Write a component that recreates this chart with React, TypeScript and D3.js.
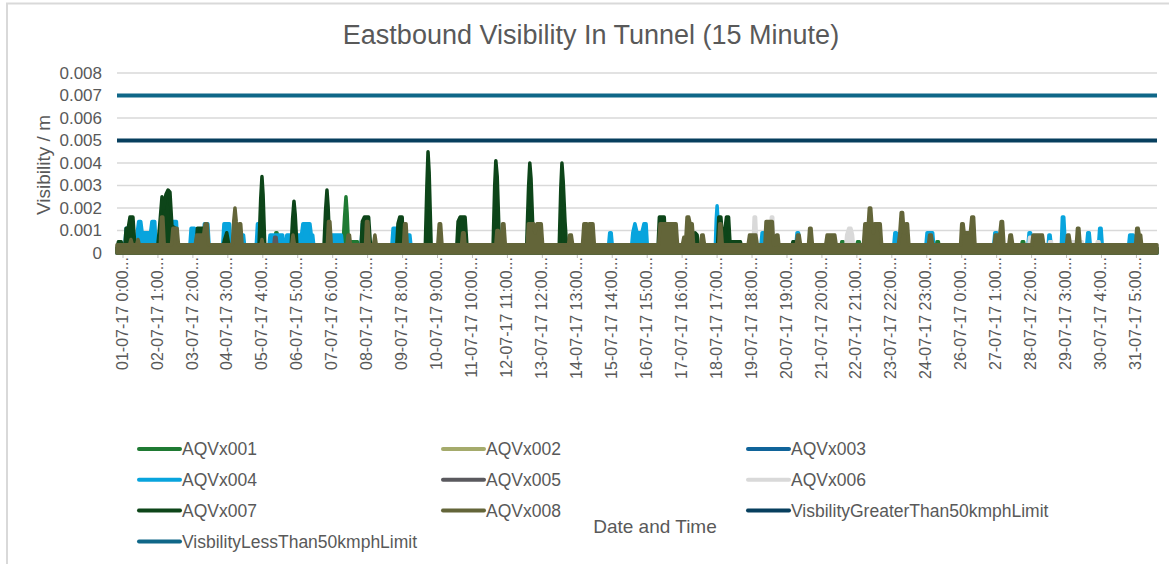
import { useEffect, useRef } from 'react';
import * as d3 from 'd3';

const WIDTH = 1169;
const HEIGHT = 564;

// time axis: hours since 01-07-17 0:00 (15 minute readings)
const HOURS_TOTAL = 744;
const LABEL_STEP_HOURS = 25;

const xTickLabels = [
  '01-07-17 0:00...', '02-07-17 1:00...', '03-07-17 2:00...', '04-07-17 3:00...',
  '05-07-17 4:00...', '06-07-17 5:00...', '07-07-17 6:00...', '08-07-17 7:00...',
  '09-07-17 8:00...', '10-07-17 9:00...', '11-07-17 10:00...', '12-07-17 11:00...',
  '13-07-17 12:00...', '14-07-17 13:00...', '15-07-17 14:00...', '16-07-17 15:00...',
  '17-07-17 16:00...', '18-07-17 17:00...', '19-07-17 18:00...', '20-07-17 19:00...',
  '21-07-17 20:00...', '22-07-17 21:00...', '23-07-17 22:00...', '24-07-17 23:00...',
  '26-07-17 0:00...', '27-07-17 1:00...', '28-07-17 2:00...', '29-07-17 3:00...',
  '30-07-17 4:00...', '31-07-17 5:00...',
];

const yTicks = [0, 0.001, 0.002, 0.003, 0.004, 0.005, 0.006, 0.007, 0.008];

// background level between bursts
const B = 0.0002;
const D = 0.00037; // AQVx008 resting level

type Pt = [number, number];

// bursts of [hour, visibility]
const AQVx001: Pt[][] = [
  [[112.8, B], [113.6, 0.0009], [114.5, 0.0009], [115.3, B]],
  [[161.5, B], [162.8, 0.0016], [163.8, 0.0025], [164.6, 0.0018], [165.5, 0.0005], [172, 0.0005], [173, B]],
  [[336, B], [336.8, 0.0005], [337.8, 0.0005], [338.6, B]],
  [[517.7, B], [518.5, 0.0005], [519.5, 0.0005], [520.3, B]],
  [[529, B], [529.8, 0.0005], [531, 0.0005], [531.8, B]],
  [[585.8, B], [586.6, 0.0005], [587.6, 0.0005], [588.4, B]],
  [[607.5, B], [608.3, 0.0009], [609.2, 0.0009], [610, B]],
  [[646.8, B], [647.6, 0.0005], [648.6, 0.0005], [649.4, B]],
];

const AQVx002: Pt[][] = [];
const AQVx003: Pt[][] = [];

const AQVx004: Pt[][] = [
  [[5.5, B], [6.5, 0.0011], [11, 0.0011], [12, B]],
  [[13.5, B], [14.5, 0.0009], [15.5, 0.0014], [17, 0.0014], [18, 0.0009], [24, 0.0009], [25, 0.0014], [27, 0.0014], [28, B]],
  [[38.5, B], [39.5, 0.0014], [42.5, 0.0014], [43.5, B]],
  [[52, B], [53, 0.0011], [55.5, 0.0011], [56.5, B]],
  [[61.5, B], [62.5, 0.0013], [65, 0.0013], [66, B]],
  [[75.5, B], [76.5, 0.0013], [80.5, 0.0013], [81.5, B]],
  [[88.5, B], [89.5, 0.0008], [90.5, 0.0008], [91.5, B]],
  [[99.5, B], [100.5, 0.0013], [103.5, 0.0013], [104.5, B]],
  [[108.5, B], [109.5, 0.0008], [118.5, 0.0008], [119.5, B]],
  [[120.5, B], [121.5, 0.0008], [132, 0.0008], [133, 0.0013], [138, 0.0013], [139, 0.0008], [140, 0.0008], [141, B]],
  [[151.5, B], [152.5, 0.0008], [160.5, 0.0008], [161.5, B]],
  [[174.5, B], [175.5, 0.0013], [179, 0.0013], [180, B]],
  [[196.5, B], [197.5, 0.0011], [202, 0.0011], [203, B]],
  [[206.5, B], [207.5, 0.0008], [209.5, 0.0008], [210.5, B]],
  [[351.5, B], [352.5, 0.0009], [353.5, 0.0009], [354.5, B]],
  [[368, B], [369, 0.0009], [370.5, 0.0013], [372, 0.0009], [375.5, 0.0009], [377, 0.0013], [378.5, 0.0013], [379.5, B]],
  [[428, B], [428.7, 0.0015], [429.3, 0.0021], [430, 0.0014], [431, B]],
  [[460.5, B], [461.5, 0.0009], [462.5, 0.0009], [463.5, B]],
  [[485.5, B], [486.5, 0.0009], [487.5, 0.0009], [488.5, B]],
  [[555.5, B], [556.5, 0.0009], [557.5, 0.0009], [558.5, B]],
  [[578.5, B], [579.5, 0.0009], [583.5, 0.0009], [584.5, B]],
  [[604, B], [605, 0.0009], [610, 0.0009], [611, B]],
  [[627, B], [628, 0.0009], [629.5, 0.0009], [630.5, B]],
  [[651.5, B], [652.5, 0.0009], [653.5, 0.0009], [654.5, B]],
  [[666, B], [666.7, 0.0008], [667.5, 0.0008], [668.5, B]],
  [[675.5, B], [676.3, 0.0016], [677.3, 0.0016], [678.5, B]],
  [[693.5, B], [694.5, 0.0009], [695.5, 0.0009], [696.5, B]],
  [[702, B], [703, 0.0011], [704, 0.0011], [705, B]],
  [[723.5, B], [724.5, 0.0008], [727, 0.0008], [728, B]],
];

const AQVx005: Pt[][] = [
  [[112, B], [112.8, 0.0007], [113.8, 0.0007], [114.6, B]],
];

const AQVx006: Pt[][] = [
  [[455, B], [455.8, 0.0016], [456.8, 0.0016], [457.8, B]],
  [[467.3, B], [468.1, 0.0016], [469.1, 0.0016], [470, B]],
  [[521.3, B], [522, 0.0008], [523.5, 0.0011], [525, 0.0011], [526.2, 0.0008], [527, B]],
  [[652, B], [652.8, 0.0007], [654, 0.0007], [654.8, B]],
  [[666.5, B], [667.2, 0.0005], [668.5, 0.0005], [669.2, B]],
  [[682.3, B], [683, 0.0005], [690.5, 0.0005], [691.3, B]],
  [[700.5, B], [701.3, 0.0005], [702.5, 0.0005], [703.3, B]],
];

const AQVx007: Pt[][] = [
  [[0, B], [1, 0.0005], [3, 0.0005], [4, B]],
  [[5.5, B], [6.5, 0.0011], [8, 0.0011], [9.3, 0.0016], [11.4, 0.0016], [12.9, B]],
  [[29, B], [30.5, 0.0012], [32.2, 0.0025], [33.5, 0.002], [35, 0.0026], [36.5, 0.0028], [37.9, 0.0027], [39.3, 0.0012], [41.5, 0.0011], [42.5, B]],
  [[56.5, B], [57.5, 0.0011], [64, 0.0011], [65, B]],
  [[75.5, B], [77, 0.0006], [78.5, 0.0009], [80.5, B]],
  [[101.5, B], [102.8, 0.0024], [103.7, 0.0034], [104.5, 0.0026], [105.8, B]],
  [[124.5, B], [125.6, 0.0015], [126.6, 0.0023], [127.5, 0.0017], [128.8, B]],
  [[148, B], [149.2, 0.0019], [150.2, 0.0028], [151, 0.0021], [152.3, B]],
  [[174.5, B], [175.5, 0.0014], [177, 0.0016], [180, 0.0016], [181.5, B]],
  [[200, B], [201, 0.0013], [202.3, 0.0016], [204, 0.0016], [205, B]],
  [[220.5, B], [221.7, 0.003], [222.5, 0.0045], [223.3, 0.0036], [224.8, B]],
  [[243, B], [244, 0.0014], [245.5, 0.0016], [249, 0.0016], [250.5, B]],
  [[269, B], [270.2, 0.003], [271, 0.0041], [272, 0.0034], [273.7, B]],
  [[293, B], [294.4, 0.0029], [295.3, 0.004], [296.2, 0.0033], [298, B]],
  [[316.3, B], [317.5, 0.0029], [318.3, 0.004], [319.2, 0.0032], [320.5, 0.0014], [321.8, B]],
  [[387, B], [388, 0.0016], [391.5, 0.0016], [392.5, B]],
  [[412.5, B], [413.5, 0.0009], [415, 0.0008], [416, B]],
  [[429.5, B], [430.5, 0.0016], [432, 0.0016], [433, 0.0008], [434.5, 0.0008], [436, 0.0016], [437.5, 0.0016], [438.5, 0.0005], [446, 0.0005], [447, B]],
  [[482.5, B], [483.5, 0.0005], [484.5, 0.0005], [485.5, B]],
];

const AQVx008: Pt[][] = [
  [[9, D], [10, 0.0006], [11, D]],
  [[14, D], [15, 0.0006], [16, D]],
  [[31, D], [31.8, 0.0016], [32.8, 0.0016], [33.8, D]],
  [[39, D], [40, 0.0011], [43, 0.0011], [44, D]],
  [[56, D], [57, 0.0008], [62, 0.0008], [63, 0.0013], [64.5, 0.0013], [65.5, D]],
  [[82.5, D], [83.5, 0.0014], [84.4, 0.002], [85.3, 0.0014], [86.5, 0.0008], [87.5, 0.0013], [88.5, 0.0013], [89.5, D]],
  [[103, D], [103.7, 0.0006], [104.5, D]],
  [[125, D], [125.9, 0.0008], [127, D]],
  [[150.5, D], [151.3, 0.0014], [152.3, 0.0014], [153.3, D]],
  [[164.5, D], [165.3, 0.0008], [166.3, 0.0008], [167, D]],
  [[177.8, D], [178.5, 0.0014], [179.5, 0.0014], [180.5, D]],
  [[183.5, D], [184.5, 0.0008], [185.5, D]],
  [[205, D], [205.8, 0.0013], [206.8, 0.0013], [207.6, D]],
  [[229.5, D], [230.5, 0.0013], [231.5, 0.0013], [232.5, D]],
  [[246.5, D], [247.3, 0.0009], [248.3, 0.0009], [249, D]],
  [[271, D], [271.8, 0.001], [272.8, 0.001], [273.5, D]],
  [[275, D], [275.8, 0.0013], [276.8, 0.0013], [277.8, D]],
  [[293.5, D], [294.3, 0.0013], [298, 0.0013], [299, 0.0009], [300.5, 0.0013], [303.5, 0.0013], [304.5, D]],
  [[323, D], [323.8, 0.0008], [325, 0.0008], [326, D]],
  [[333, D], [334, 0.0013], [336, 0.0013], [337, 0.0009], [338, 0.0013], [340.5, 0.0013], [341.5, D]],
  [[387.5, D], [388.5, 0.0013], [400, 0.0013], [401, D]],
  [[404.5, D], [405.5, 0.0007], [407, 0.0007], [407.8, 0.0016], [409, 0.0016], [410, 0.0013], [411.5, 0.0013], [412.5, D]],
  [[417.5, D], [418.3, 0.0008], [419.3, 0.0008], [420.3, D]],
  [[430.5, D], [431.2, 0.0013], [432, 0.0013], [433, D]],
  [[451.5, D], [452.5, 0.0008], [457, 0.0008], [458, D]],
  [[463.5, D], [464.3, 0.0014], [468.8, 0.0014], [469.8, D]],
  [[471, D], [471.8, 0.0008], [472.8, 0.0008], [473.5, D]],
  [[486, D], [486.8, 0.0008], [488, 0.0008], [489, D]],
  [[494.7, D], [495.5, 0.0011], [496.5, 0.0011], [497.5, D]],
  [[507, D], [508, 0.0008], [513.5, 0.0008], [514.5, D]],
  [[534, D], [535, 0.0013], [537.5, 0.0013], [538.2, 0.002], [539.2, 0.002], [540, 0.0013], [541, 0.0009], [542, 0.0013], [546, 0.0013], [547, D]],
  [[559, D], [560, 0.0009], [561, 0.0018], [562, 0.0018], [563, 0.0009], [564.5, 0.0013], [565.5, 0.0013], [566.5, D]],
  [[580.5, D], [581.3, 0.0008], [582.5, 0.0008], [583.5, D]],
  [[603.5, D], [604.3, 0.0013], [605.3, 0.0013], [606, 0.0009], [610.5, 0.0009], [611.5, 0.0016], [612.8, 0.0016], [613.8, D]],
  [[627.5, D], [628.3, 0.0008], [631.5, 0.0008], [632.5, 0.0014], [633.5, 0.0014], [634.5, D]],
  [[638, D], [638.8, 0.0008], [639.8, 0.0008], [640.8, D]],
  [[654.5, D], [655.3, 0.0008], [662, 0.0008], [663, D]],
  [[679.3, D], [680, 0.0008], [681, 0.0008], [682, D]],
  [[686.3, D], [687.1, 0.0011], [688.1, 0.0011], [689, D]],
  [[728.7, D], [729.5, 0.0011], [730.5, 0.0011], [731.3, 0.0008], [732.3, 0.0008], [733, D]],
];

const LIMIT_GREATER_50 = 0.005;
const LIMIT_LESS_50 = 0.007;

const sensors = [
  { name: 'AQVx001', color: '#1f7a33', base: B, bursts: AQVx001 },
  { name: 'AQVx002', color: '#a5ab6c', base: B, bursts: AQVx002 },
  { name: 'AQVx003', color: '#10649a', base: B, bursts: AQVx003 },
  { name: 'AQVx004', color: '#08a4dd', base: B, bursts: AQVx004 },
  { name: 'AQVx005', color: '#5a595e', base: B, bursts: AQVx005 },
  { name: 'AQVx006', color: '#d9d9d9', base: B, bursts: AQVx006 },
  { name: 'AQVx007', color: '#0d4519', base: B, bursts: AQVx007 },
  { name: 'AQVx008', color: '#636539', base: D, bursts: AQVx008 },
];

const limits = [
  { name: 'VisbilityGreaterThan50kmphLimit', color: '#073f5e', value: LIMIT_GREATER_50 },
  { name: 'VisbilityLessThan50kmphLimit', color: '#0f6788', value: LIMIT_LESS_50 },
];

const FONT = "'Liberation Sans', Arial, sans-serif";
const TEXT = '#595959';

export default function App() {
  const svgRef = useRef<SVGSVGElement>(null);

  useEffect(() => {
    document.body.style.margin = '0';
    const svg = d3.select(svgRef.current);
    svg.selectAll('*').remove();

    const x = d3.scaleLinear().domain([0, HOURS_TOTAL]).range([117, 1157]);
    const y = d3.scaleLinear().domain([0, 0.008]).range([253, 73]);

    // chart frame (top and left edges)
    svg.append('line').attr('x1', 6).attr('x2', WIDTH).attr('y1', 3.5).attr('y2', 3.5)
      .attr('stroke', '#d9d9d9').attr('stroke-width', 2);
    svg.append('line').attr('x1', 7).attr('x2', 7).attr('y1', 3).attr('y2', HEIGHT)
      .attr('stroke', '#d9d9d9').attr('stroke-width', 2);

    svg.append('text')
      .attr('x', 591).attr('y', 44)
      .attr('text-anchor', 'middle')
      .style('font-family', FONT).style('font-size', '27px').style('fill', TEXT)
      .text('Eastbound Visibility In Tunnel (15 Minute)');

    // gridlines + y labels
    const grid = svg.append('g');
    grid.selectAll('line').data(yTicks.slice(1)).enter().append('line')
      .attr('x1', x(0)).attr('x2', x(HOURS_TOTAL))
      .attr('y1', d => y(d)).attr('y2', d => y(d))
      .attr('stroke', '#d9d9d9').attr('stroke-width', 1.3);
    grid.selectAll('text').data(yTicks).enter().append('text')
      .attr('x', 102).attr('y', d => y(d)).attr('dy', '0.35em')
      .attr('text-anchor', 'end')
      .style('font-family', FONT).style('font-size', '17px').style('fill', TEXT)
      .text(d => (d === 0 ? '0' : d3.format('.3f')(d)));

    svg.append('text')
      .attr('transform', 'translate(50,165) rotate(-90)')
      .attr('text-anchor', 'middle')
      .style('font-family', FONT).style('font-size', '19px').style('fill', TEXT)
      .text('Visibility / m');

    // x ticks + labels
    const xa = svg.append('g');
    xa.selectAll('line').data(xTickLabels).enter().append('line')
      .attr('x1', (_, i) => x(i * LABEL_STEP_HOURS) + 6).attr('x2', (_, i) => x(i * LABEL_STEP_HOURS) + 6)
      .attr('y1', 254).attr('y2', 258)
      .attr('stroke', '#bfbfbf').attr('stroke-width', 1);
    xa.selectAll('text').data(xTickLabels).enter().append('text')
      .attr('transform', (_, i) => `translate(${x(i * LABEL_STEP_HOURS) + 5},257) rotate(-90)`)
      .attr('dy', '0.35em')
      .attr('text-anchor', 'end')
      .style('font-family', FONT).style('font-size', '16px').style('fill', TEXT)
      .text(d => d);

    svg.append('text')
      .attr('x', 655).attr('y', 533)
      .attr('text-anchor', 'middle')
      .style('font-family', FONT).style('font-size', '19px').style('fill', TEXT)
      .text('Date and Time');

    // sensor series (dense 15-minute readings render as filled spikes)
    const area = d3.area<Pt>()
      .x(d => x(d[0]))
      .y0(y(0))
      .y1(d => y(d[1]));

    const plot = svg.append('g');
    sensors.forEach(s => {
      const pts: Pt[] = [[0, s.base], ...s.bursts.flat(), [HOURS_TOTAL, s.base]];
      plot.append('path')
        .attr('d', area(pts))
        .attr('fill', s.color)
        .attr('stroke', s.color)
        .attr('stroke-width', 3.5)
        .attr('stroke-linejoin', 'round');
    });

    limits.forEach(l => {
      plot.append('line')
        .attr('x1', x(0)).attr('x2', x(HOURS_TOTAL))
        .attr('y1', y(l.value)).attr('y2', y(l.value))
        .attr('stroke', l.color).attr('stroke-width', 4);
    });

    // legend
    const items = [...sensors.map(s => ({ name: s.name, color: s.color })), ...limits.map(l => ({ name: l.name, color: l.color }))];
    const colX = [139, 443, 748];
    const legend = svg.append('g');
    items.forEach((it, i) => {
      const cx = colX[i % 3];
      const cy = 449 + Math.floor(i / 3) * 30.8;
      legend.append('line')
        .attr('x1', cx).attr('x2', cx + 41).attr('y1', cy).attr('y2', cy)
        .attr('stroke', it.color).attr('stroke-width', 4).attr('stroke-linecap', 'round');
      legend.append('text')
        .attr('x', cx + 43).attr('y', cy).attr('dy', '0.35em')
        .style('font-family', FONT).style('font-size', '17.5px').style('fill', TEXT)
        .text(it.name);
    });
  }, []);

  return <svg ref={svgRef} width={WIDTH} height={HEIGHT} style={{ display: 'block', background: '#fff' }} />;
}
